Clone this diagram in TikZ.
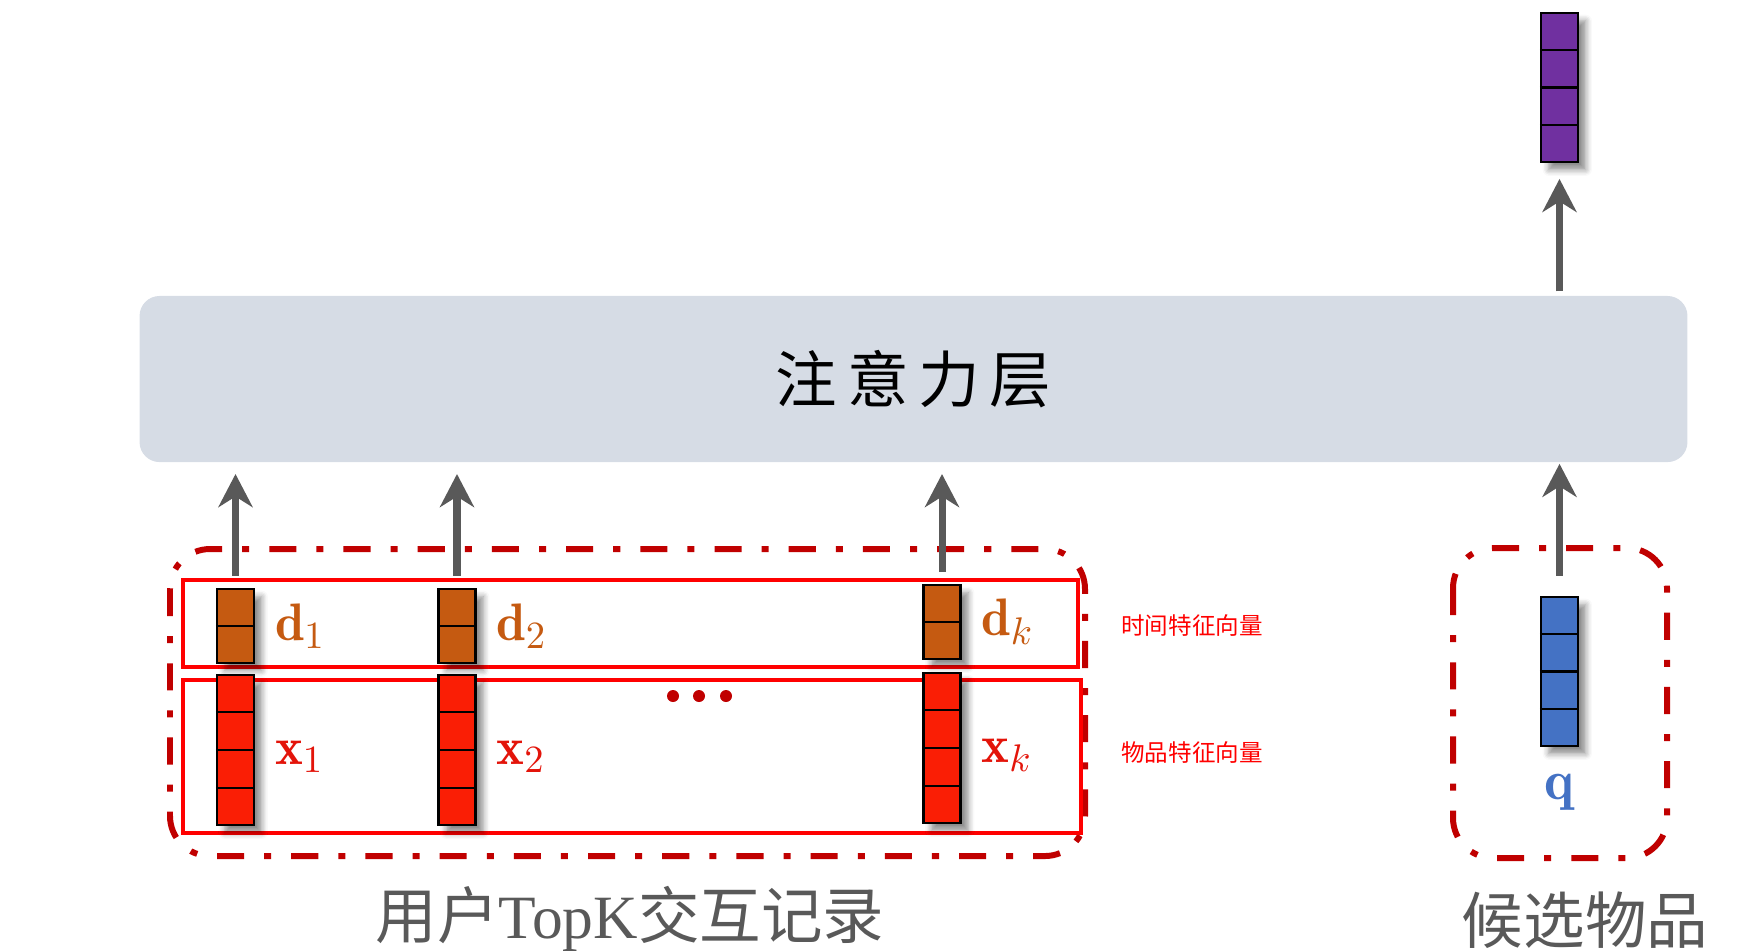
\documentclass[tikz,border=0pt]{standalone}
\usepackage{amsmath}
\usepackage{fontspec}
\newfontfamily\cjk{Noto Sans CJK SC}
\newfontfamily\latinserif{Liberation Serif}
\usetikzlibrary{positioning,calc,arrows.meta,shadows.blur}

\definecolor{attgray}{HTML}{D6DCE5}
\definecolor{arrowgray}{HTML}{595959}
\definecolor{captiongray}{HTML}{595959}
\definecolor{groupred}{HTML}{C00000}
\definecolor{featred}{HTML}{FF0000}
\definecolor{timebrown}{HTML}{C55A11}
\definecolor{itemred}{HTML}{FA1E05}
\definecolor{itemtext}{HTML}{E3140A}
\definecolor{candblue}{HTML}{4472C4}
\definecolor{outpurple}{HTML}{7030A0}

\tikzset{
  vec/.style={draw=black, line width=0.6pt, minimum width=0.37cm, inner sep=0pt,
    blur shadow={shadow xshift=2.2pt, shadow yshift=-2.2pt, shadow blur steps=5, shadow opacity=45}},
  cellline/.style={draw=black, line width=0.6pt},
  uparrow/.style={draw=arrowgray, line width=2pt, -{Stealth[length=9.4pt,width=9.7pt,inset=3pt]}},
  groupbox/.style={draw=groupred, line width=1.7pt, rounded corners=0.4cm,
    dash pattern=on 7.7pt off 5.7pt on 2pt off 5.7pt},
  featbox/.style={draw=featred, line width=1pt},
  attbox/.style={fill=attgray, rounded corners=0.2cm, minimum width=15.47cm, minimum height=1.66cm,
    font=\cjk\fontsize{17.5}{20}\selectfont},
  veclbl/.style={inner sep=0pt, font=\fontsize{15}{18}\selectfont},
  sidelbl/.style={text=featred, font=\cjk\fontsize{6.7}{8}\selectfont},
  caption/.style={text=captiongray, font=\cjk\fontsize{17.5}{20}\selectfont},
  ellipdot/.style={circle, fill=groupred, minimum size=0.12cm, inner sep=0pt},
}

\begin{document}
\begin{tikzpicture}[x=0.01cm, y=-0.01cm]
  \useasboundingbox (0,0) rectangle (1740,950);
  % --- dashed groups: top-k records (left), candidate (right) ---
  \draw[groupbox] (170,549) rectangle (1085,856);
  \draw[groupbox] (1453,548) rectangle (1667,858);
  % feature rows
  \draw[featbox] (183,580) rectangle (1078,667);
  \draw[featbox] (183,680) rectangle (1081,833);
  % --- attention layer ---
  \node[attbox] (att) at (913.5,379) {注\hspace{2.8pt}意\hspace{2.8pt}力\hspace{2.8pt}层};
  % --- time vectors d and item vectors x ---
  \node[vec, fill=timebrown, minimum height=0.74cm] (d1) at (235.5,626) {};
  \node[vec, fill=timebrown, minimum height=0.74cm] (d2) at (457,626) {};
  \node[vec, fill=timebrown, minimum height=0.74cm] (dk) at (942,622) {};
  \node[vec, fill=itemred, minimum height=1.5cm, below=2.8pt of d1] (x1) {};
  \node[vec, fill=itemred, minimum height=1.5cm, below=2.8pt of d2] (x2) {};
  \node[vec, fill=itemred, minimum height=1.5cm] (xk) at (942,748) {};
  % candidate q and output
  \node[vec, fill=candblue, minimum height=1.49cm] (q) at (1559.5,671.5) {};
  \node[vec, fill=outpurple, minimum height=1.49cm] (out) at (1559.5,87.5) {};
  % cell borders
  \foreach \v in {d1,d2,dk}
    \draw[cellline] (\v.west) -- (\v.east);
  \foreach \v in {x1,x2,xk,q,out}
    \foreach \f in {0.25,0.5,0.75}
      \draw[cellline] ($(\v.north west)!\f!(\v.south west)$) -- ($(\v.north east)!\f!(\v.south east)$);
  % labels
  \node[veclbl, text=timebrown, right=5.5pt of d1] (d1lbl) {$\mathbf{d}_1$};
  \node[veclbl, text=timebrown, right=5.5pt of d2] (d2lbl) {$\mathbf{d}_2$};
  \node[veclbl, text=timebrown, right=5.5pt of dk] (dklbl) {$\mathbf{d}_k$};
  \node[veclbl, text=itemtext, right=5.5pt of x1, yshift=-2pt] (x1lbl) {$\mathbf{x}_1$};
  \node[veclbl, text=itemtext, right=5.5pt of x2, yshift=-2pt] (x2lbl) {$\mathbf{x}_2$};
  \node[veclbl, text=itemtext, right=5.5pt of xk, yshift=-2pt] (xklbl) {$\mathbf{x}_k$};
  \node[veclbl, text=candblue, font=\fontsize{16}{19}\selectfont, below=7.4pt of q] (qlbl) {$\mathbf{q}$};
  % ellipsis between x2 and xk
  \node[ellipdot] (dot1) at (673,696) {};
  \node[ellipdot] (dot2) at (699,696) {};
  \node[ellipdot] (dot3) at (726,696) {};
  % --- arrows into and out of the attention layer ---
  \foreach \v in {d1,d2,dk}
    \draw[uparrow, shorten <=3.4pt, shorten >=3.2pt] (\v.north) -- (\v.north |- att.south);
  \draw[uparrow, shorten <=5.7pt, shorten >=0.3pt] (q.north) -- (q.north |- att.south);
  \draw[uparrow, shorten <=1.1pt, shorten >=4.5pt] (out.south |- att.north) -- (out.south);
  % side notes and captions
  \node[sidelbl] (timelbl) at (1192,625) {时间特征向量};
  \node[sidelbl] (itemlbl) at (1192,752) {物品特征向量};
  \node[caption] (usercap) at (630,919) {用户{\latinserif TopK}交互记录};
  \node[caption] (candcap) at (1585,920) {候选物品};
\end{tikzpicture}
\end{document}
